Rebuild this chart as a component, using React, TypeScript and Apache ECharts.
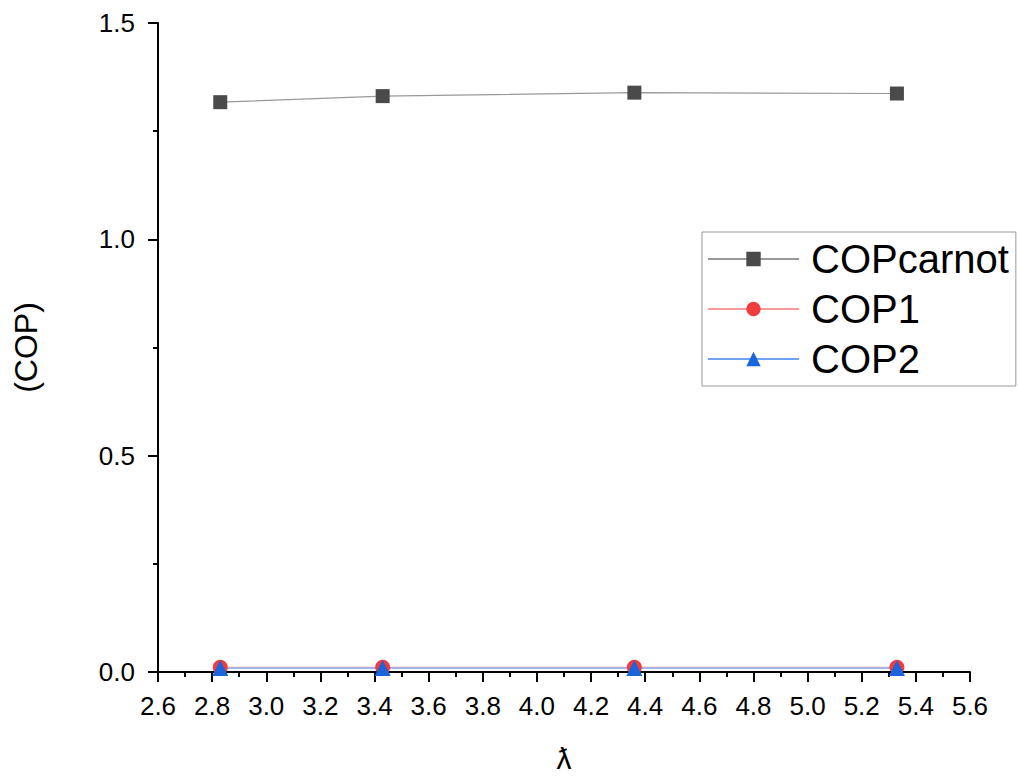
import React, { useEffect, useRef } from "react";
import * as echarts from "echarts";

const lambdaValues = [2.83, 3.43, 4.36, 5.33];
const copCarnot = [1.317, 1.331, 1.339, 1.337];
const cop1 = [0.011, 0.011, 0.011, 0.011];
const cop2 = [0.009, 0.009, 0.009, 0.009];
const seriesNames = ["COPcarnot", "COP1", "COP2"];

const font = "Liberation Sans, Arial, sans-serif";

export default function App() {
  const ref = useRef<HTMLDivElement>(null);
  useEffect(() => {
    const chart = echarts.init(ref.current!, null, { renderer: "svg" });
    const pairs = (ys: number[]) => lambdaValues.map((x, i) => [x, ys[i]]);
    const labelFmt = (v: number) => v.toFixed(1);
    chart.setOption({
      animation: false,
      backgroundColor: "#ffffff",
      grid: { left: 158, right: 48, top: 23, bottom: 100 },
      legend: {
        orient: "vertical",
        left: 702,
        top: 232,
        padding: [7, 7, 7, 5],
        borderColor: "#999",
        borderWidth: 1,
        itemWidth: 91,
        itemHeight: 18,
        itemGap: 10,
        textStyle: { fontSize: 40, fontFamily: font, color: "#000", padding: [0, 0, 0, 7] },
        data: seriesNames,
      },
      xAxis: {
        type: "value",
        min: 2.6,
        max: 5.6,
        interval: 0.2,
        name: "ƛ",
        nameLocation: "middle",
        nameGap: 71,
        nameTextStyle: { fontSize: 30, fontFamily: font, color: "#000" },
        axisLine: { show: true, lineStyle: { color: "#000", width: 2 } },
        axisTick: { show: true, length: 10, lineStyle: { color: "#000", width: 2 } },
        minorTick: { show: true, splitNumber: 2, length: 5, lineStyle: { color: "#000", width: 2 } },
        splitLine: { show: false },
        axisLabel: {
          fontSize: 26,
          fontFamily: font,
          color: "#000",
          margin: 21,
          formatter: labelFmt,
        },
      },
      yAxis: {
        type: "value",
        min: 0,
        max: 1.5,
        interval: 0.5,
        name: "(COP)",
        nameLocation: "middle",
        nameGap: 116,
        nameRotate: 90,
        nameTextStyle: { fontSize: 32, fontFamily: font, color: "#000" },
        axisLine: { show: true, lineStyle: { color: "#000", width: 2 } },
        axisTick: { show: true, length: 10, lineStyle: { color: "#000", width: 2 } },
        minorTick: { show: true, splitNumber: 2, length: 5, lineStyle: { color: "#000", width: 2 } },
        splitLine: { show: false },
        axisLabel: {
          fontSize: 26,
          fontFamily: font,
          color: "#000",
          margin: 23,
          formatter: labelFmt,
        },
      },
      series: [
        {
          name: seriesNames[0],
          type: "line",
          data: pairs(copCarnot),
          symbol: "rect",
          symbolSize: 14,
          itemStyle: { color: "#4a4a4a" },
          lineStyle: { color: "#999", width: 1.2 },
        },
        {
          name: seriesNames[1],
          type: "line",
          data: pairs(cop1),
          symbol: "circle",
          symbolSize: 15,
          itemStyle: { color: "#f03c3c" },
          lineStyle: { color: "#f79a9a", width: 1.2 },
        },
        {
          name: seriesNames[2],
          type: "line",
          data: pairs(cop2),
          symbol: "triangle",
          symbolSize: 16,
          itemStyle: { color: "#1a64dc" },
          lineStyle: { color: "#6fa3ef", width: 1.2 },
        },
      ],
    });
    return () => chart.dispose();
  }, []);
  return (
    <div
      ref={ref}
      style={{ position: "fixed", left: 0, top: 0, width: 1018, height: 778 }}
    />
  );
}
